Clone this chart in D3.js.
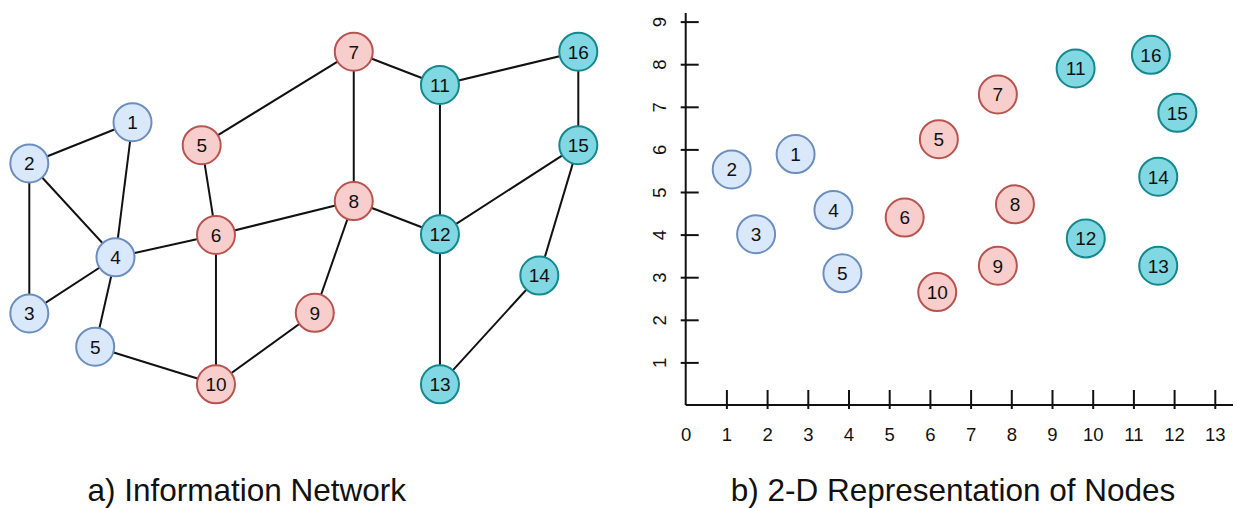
<!DOCTYPE html>
<html>
<head>
<meta charset="utf-8">
<script src="https://cdn.jsdelivr.net/npm/d3@7"></script>
<style>
  html, body { margin: 0; padding: 0; background: #ffffff; }
  svg { display: block; }
  text { font-family: "Liberation Sans", Arial, Helvetica, sans-serif; fill: #111; }
</style>
</head>
<body>
<svg id="chart" width="1237" height="508"></svg>
<script>
// ---- Network: node ids, labels, communities, layout position (0-100 grid) ----
const netIds    = ["n1","n2","n3","n4","n5a","n5b","n6","n7","n8","n9","n10","n11","n12","n13","n14","n15","n16"];
const netLabels = ["1","2","3","4","5","5","6","7","8","9","10","11","12","13","14","15","16"];
const netGroups = ["blue","blue","blue","blue","blue","red","red","red","red","red","red","teal","teal","teal","teal","teal","teal"];
const netX      = [18.8, 0, 0, 15.7, 12.0, 31.4, 34.0, 59.1, 59.1, 52.0, 34.0, 74.8, 74.8, 74.8, 92.9, 100, 100];
const netY      = [21.2, 33.6, 78.7, 61.8, 88.7, 28.1, 55.1, 0, 44.9, 78.5, 100, 10.0, 54.9, 100, 67.3, 28.1, 0];

// ---- Network edges ----
const edgeFrom = ["n1","n1","n2","n2","n3","n4","n4","n5a","n5b","n5b","n6","n6","n7","n7","n8","n8","n9","n11","n11","n12","n12","n13","n14","n15"];
const edgeTo   = ["n2","n4","n4","n3","n4","n5a","n6","n10","n6","n7","n8","n10","n8","n11","n9","n12","n10","n12","n16","n15","n13","n14","n15","n16"];

// ---- 2-D representation: one point per node ----
const embLabels = ["1","2","3","4","5","5","6","7","8","9","10","11","12","13","14","15","16"];
const embGroups = ["blue","blue","blue","blue","blue","red","red","red","red","red","red","teal","teal","teal","teal","teal","teal"];
const embX      = [2.70, 1.13, 1.73, 3.63, 3.85, 6.22, 5.38, 7.67, 8.09, 7.67, 6.18, 9.58, 9.83, 11.61, 11.61, 12.08, 11.43];
const embY      = [5.89, 5.53, 4.01, 4.58, 3.09, 6.24, 4.40, 7.29, 4.71, 3.27, 2.65, 7.90, 3.91, 3.27, 5.36, 6.86, 8.22];

// ---- Axis ticks ----
const xTickValues = d3.range(0, 14);
const yTickValues = d3.range(1, 10);

// ---- Titles ----
const titleA = "a) Information Network";
const titleB = "b) 2-D Representation of Nodes";

const fills   = { blue: "#dae8fc", red: "#f8cecc", teal: "#81d8e2" };
const strokes = { blue: "#6c8ebf", red: "#b85450", teal: "#14878f" };
const R = 19;

const svg = d3.select("#chart");

// ================= a) Information Network =================
const xL = d3.scaleLinear().domain([0, 100]).range([29.3, 578.3]);
const yL = d3.scaleLinear().domain([0, 100]).range([51.7, 384.3]);

const nodes = netIds.map((id, i) => ({ id, label: netLabels[i], group: netGroups[i], x: netX[i], y: netY[i] }));
const byId = new Map(nodes.map(d => [d.id, d]));
const edges = edgeFrom.map((s, i) => ({ s: byId.get(s), t: byId.get(edgeTo[i]) }));

const gNet = svg.append("g");
gNet.selectAll("line.edge").data(edges).join("line")
  .attr("class", "edge")
  .attr("x1", d => xL(d.s.x)).attr("y1", d => yL(d.s.y))
  .attr("x2", d => xL(d.t.x)).attr("y2", d => yL(d.t.y))
  .attr("stroke", "#111").attr("stroke-width", 2);

const nodeG = gNet.selectAll("g.node").data(nodes).join("g")
  .attr("class", "node")
  .attr("transform", d => `translate(${xL(d.x)},${yL(d.y)})`);
nodeG.append("circle").attr("r", R)
  .attr("fill", d => fills[d.group]).attr("stroke", d => strokes[d.group]).attr("stroke-width", 2);
nodeG.append("text").text(d => d.label)
  .attr("text-anchor", "middle").attr("dy", "0.36em")
  .style("font-size", "19px");

svg.append("text").text(titleA)
  .attr("x", 246.7).attr("y", 501)
  .attr("text-anchor", "middle")
  .style("font-size", "31.5px");

// ================= b) 2-D Representation =================
const xR = d3.scaleLinear().domain([0, 13]).range([685.7, 1214.8]);
const yR = d3.scaleLinear().domain([0, 9]).range([405, 21.6]);

const gAx = svg.append("g");

// axis lines
gAx.append("line").attr("x1", xR(0)).attr("x2", 1233).attr("y1", yR(0)).attr("y2", yR(0))
  .attr("stroke", "#111").attr("stroke-width", 2);
gAx.append("line").attr("x1", xR(0)).attr("x2", xR(0)).attr("y1", yR(0)).attr("y2", 13)
  .attr("stroke", "#111").attr("stroke-width", 2);

// x axis
const xAxis = gAx.append("g")
  .attr("transform", `translate(0,${yR(0)})`)
  .call(d3.axisBottom(xR).tickValues(xTickValues).tickSizeOuter(0).tickSize(0).tickPadding(23));
xAxis.select(".domain").remove();
xAxis.selectAll(".tick line")
  .attr("y1", -15).attr("y2", 4)
  .attr("stroke", "#111").attr("stroke-width", 2)
  .filter(d => d === 0).remove();
xAxis.selectAll(".tick text")
  .style("font-size", "18.5px").style("font-family", "Liberation Sans, Arial, sans-serif").attr("fill", "#111");

// y axis
const yAxis = gAx.append("g")
  .attr("transform", `translate(${xR(0)},0)`)
  .call(d3.axisLeft(yR).tickValues(yTickValues).tickSizeOuter(0).tickSize(0));
yAxis.select(".domain").remove();
yAxis.selectAll(".tick line")
  .attr("x1", -5).attr("x2", 13)
  .attr("stroke", "#111").attr("stroke-width", 2);
yAxis.selectAll(".tick text")
  .attr("x", null).attr("dy", null)
  .attr("text-anchor", "middle")
  .attr("dominant-baseline", "central")
  .attr("transform", "translate(-26,0) rotate(-90)")
  .style("font-size", "18.5px").style("font-family", "Liberation Sans, Arial, sans-serif").attr("fill", "#111");

// points
const pts = embLabels.map((l, i) => ({ label: l, group: embGroups[i], x: embX[i], y: embY[i] }));
const ptG = svg.append("g").selectAll("g.pt").data(pts).join("g")
  .attr("class", "pt")
  .attr("transform", d => `translate(${xR(d.x)},${yR(d.y)})`);
ptG.append("circle").attr("r", R)
  .attr("fill", d => fills[d.group]).attr("stroke", d => strokes[d.group]).attr("stroke-width", 2);
ptG.append("text").text(d => d.label)
  .attr("text-anchor", "middle").attr("dy", "0.36em")
  .style("font-size", "19px");

svg.append("text").text(titleB)
  .attr("x", 953).attr("y", 501)
  .attr("text-anchor", "middle")
  .style("font-size", "31.5px");
</script>
</body>
</html>
